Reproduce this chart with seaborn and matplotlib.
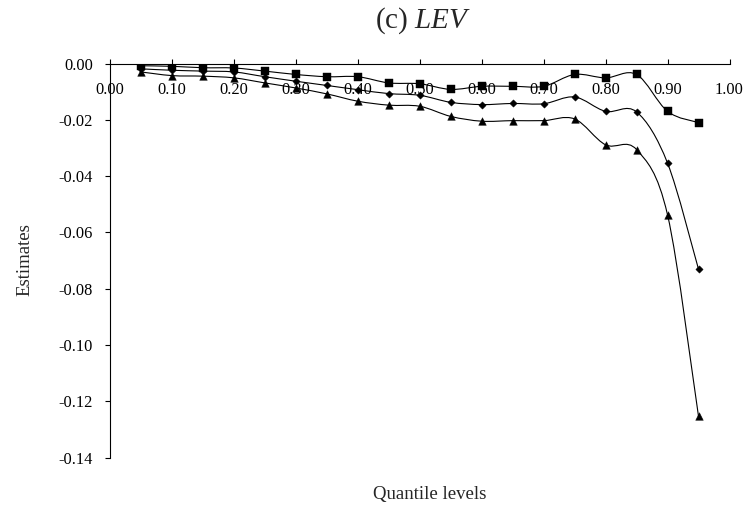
import numpy as np
import pandas as pd
import matplotlib
matplotlib.use("Agg")
import matplotlib.pyplot as plt
from matplotlib.path import Path
from matplotlib.patches import PathPatch
import seaborn as sns

# Quantile levels and estimated coefficients for three specifications
quantiles = [0.05, 0.10, 0.15, 0.20, 0.25, 0.30, 0.35, 0.40, 0.45, 0.50,
             0.55, 0.60, 0.65, 0.70, 0.75, 0.80, 0.85, 0.90, 0.95]
est_square = [-0.0008, -0.0010, -0.0015, -0.0016, -0.0027, -0.0039, -0.0047, -0.0047, -0.0069, -0.0072,
              -0.0092, -0.0081, -0.0081, -0.0081, -0.0039, -0.0051, -0.0039, -0.0170, -0.0210]
est_diamond = [-0.0019, -0.0024, -0.0027, -0.0030, -0.0047, -0.0063, -0.0078, -0.0093, -0.0107, -0.0113,
               -0.0138, -0.0146, -0.0142, -0.0143, -0.0119, -0.0170, -0.0172, -0.0354, -0.0731]
est_triangle = [-0.0030, -0.0043, -0.0045, -0.0051, -0.0069, -0.0087, -0.0108, -0.0134, -0.0148, -0.0152,
                -0.0188, -0.0205, -0.0203, -0.0203, -0.0197, -0.0289, -0.0306, -0.0538, -0.1254]

x_ticks = [0.00, 0.10, 0.20, 0.30, 0.40, 0.50, 0.60, 0.70, 0.80, 0.90, 1.00]
y_ticks = [0.00, -0.02, -0.04, -0.06, -0.08, -0.10, -0.12, -0.14]

sns.set_style("ticks")
plt.rcParams["font.family"] = ["Liberation Serif", "DejaVu Serif"]
plt.rcParams["mathtext.fontset"] = "custom"
plt.rcParams["mathtext.rm"] = "Liberation Serif"
plt.rcParams["mathtext.it"] = "Liberation Serif:italic"
plt.rcParams["axes.unicode_minus"] = False

fig = plt.figure(figsize=(7.53, 5.09), dpi=100)
ax = fig.add_axes([110 / 753, 1 - 457.5 / 509, (729.5 - 110) / 753, (457.5 - 63.5) / 509])


def smooth_path(xs, ys):
    """Cubic Bezier path through the points, Excel-style smoothing."""
    pts = np.column_stack([xs, ys])
    n = len(pts)
    verts = [pts[0]]
    codes = [Path.MOVETO]
    for i in range(n - 1):
        p0 = pts[max(i - 1, 0)]
        p1 = pts[i]
        p2 = pts[i + 1]
        p3 = pts[min(i + 2, n - 1)]
        c1 = p1 + (p2 - p0) / 6.0
        c2 = p2 - (p3 - p1) / 6.0
        verts += [c1, c2, p2]
        codes += [Path.CURVE4] * 3
    return Path(np.array(verts), codes)


series = [
    (est_square, "s", 30),
    (est_diamond, "D", 14),
    (est_triangle, "^", 30),
]

for vals, marker, size in series:
    ax.add_patch(PathPatch(smooth_path(quantiles, vals), fill=False,
                           edgecolor="black", lw=0.8, zorder=2))
    df = pd.DataFrame({"q": quantiles, "est": vals})
    sns.scatterplot(data=df, x="q", y="est", marker=marker, s=size,
                    color="black", edgecolor="black", linewidth=0.3,
                    ax=ax, zorder=3, legend=False)

ax.set_xlim(0, 1.0)
ax.set_ylim(-0.14, 0.0)
ax.set_xticks(x_ticks)
ax.set_xticklabels([f"{v:.2f}" for v in x_ticks])
ax.set_yticks(y_ticks)
ax.set_yticklabels(["0.00" if v == 0 else f"{v:.2f}" for v in y_ticks])

for side in ["right", "bottom"]:
    ax.spines[side].set_visible(False)
for side in ["top", "left"]:
    ax.spines[side].set_linewidth(0.8)
    ax.spines[side].set_color("black")

ax.tick_params(axis="x", which="both", top=True, bottom=False,
               labeltop=True, labelbottom=False, direction="out",
               length=3.6, width=0.8, pad=-28.5, labelsize=11.8,
               colors="black")
ax.tick_params(axis="y", direction="out", length=3.6, width=0.8,
               pad=8.5, labelsize=11.8, colors="black")

ax.set_xlabel("")
ax.set_ylabel("")
fig.text(25 / 753, 1 - 260 / 509, "Estimates", rotation=90,
         ha="center", va="center", fontsize=13.5)
fig.text(430 / 753, 1 - 495 / 509, "Quantile levels",
         ha="center", va="center", fontsize=13.5)
fig.text(423 / 753, 1 - 21 / 509, r"(c) $\mathit{LEV}$",
         ha="center", va="center", fontsize=21)

fig.savefig("out.png", dpi=100)
